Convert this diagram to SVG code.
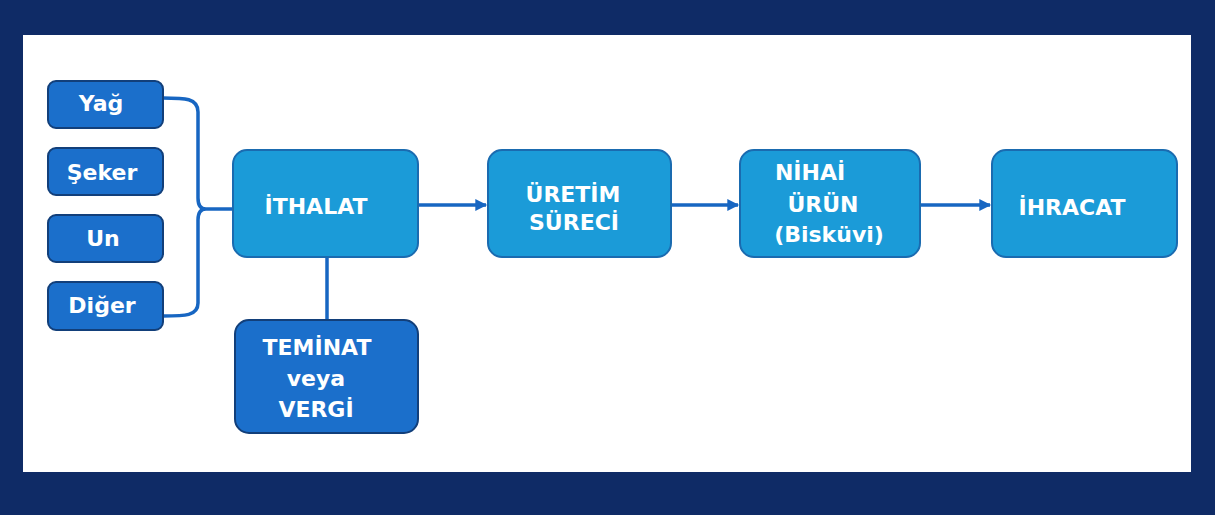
<svg xmlns="http://www.w3.org/2000/svg" width="1215" height="515" viewBox="0 0 1215 515">
<defs>
<style>
.dk{fill:#1b6fcb;stroke:#123f7a;stroke-width:2}
.lt{fill:#1b9bd8;stroke:#1a6bb0;stroke-width:2}
.t{font-family:"DejaVu Sans",Verdana,sans-serif;font-weight:bold;font-size:22px;fill:#ffffff;text-anchor:middle}
.c{fill:none;stroke:#1766c2;stroke-width:3.5}
</style>
<marker id="ah" viewBox="0 0 10 10" refX="9" refY="5" markerWidth="3.6" markerHeight="3.4" orient="auto" markerUnits="strokeWidth">
<path d="M0,0 L10,5 L0,10 z" fill="#1766c2"/>
</marker>
</defs>
<rect x="0" y="0" width="1215" height="515" fill="#0f2b66"/>
<rect x="23" y="35" width="1168" height="437" fill="#ffffff"/>
<g id="connectors">
<path class="c" d="M163,98 C185,98 198,98 198,112 V198 Q198,209 206,209 Q198,209 198,220 V303 C198,316 185,316 163,316"/>
<path class="c" d="M206,209 H233"/>
<path class="c" d="M327,257 V320"/>
<path class="c" d="M418,205 H486" marker-end="url(#ah)"/>
<path class="c" d="M671,205 H738" marker-end="url(#ah)"/>
<path class="c" d="M920,205 H990" marker-end="url(#ah)"/>
</g>
<g id="yag"><rect class="dk" x="48" y="81" width="115" height="47" rx="8"/><text class="t" x="101" y="111">Yağ</text></g>
<g id="seker"><rect class="dk" x="48" y="148" width="115" height="47" rx="8"/><text class="t" x="102" y="180">Şeker</text></g>
<g id="un"><rect class="dk" x="48" y="215" width="115" height="47" rx="8"/><text class="t" x="103" y="246">Un</text></g>
<g id="diger"><rect class="dk" x="48" y="282" width="115" height="48" rx="8"/><text class="t" x="102" y="313">Diğer</text></g>
<g id="ithalat"><rect class="lt" x="233" y="150" width="185" height="107" rx="14"/><text class="t" x="316" y="214">İTHALAT</text></g>
<g id="uretim"><rect class="lt" x="488" y="150" width="183" height="107" rx="14"/><text class="t" x="573" y="202">ÜRETİM</text><text class="t" x="574" y="230">SÜRECİ</text></g>
<g id="nihai"><rect class="lt" x="740" y="150" width="180" height="107" rx="14"/><text class="t" x="810" y="180">NİHAİ</text><text class="t" x="823" y="212">ÜRÜN</text><text class="t" x="829" y="242">(Bisküvi)</text></g>
<g id="ihracat"><rect class="lt" x="992" y="150" width="185" height="107" rx="14"/><text class="t" x="1072" y="215">İHRACAT</text></g>
<g id="teminat"><rect class="dk" x="235" y="320" width="183" height="113" rx="14"/><text class="t" x="317" y="355">TEMİNAT</text><text class="t" x="316" y="386">veya</text><text class="t" x="316" y="417">VERGİ</text></g>
</svg>
